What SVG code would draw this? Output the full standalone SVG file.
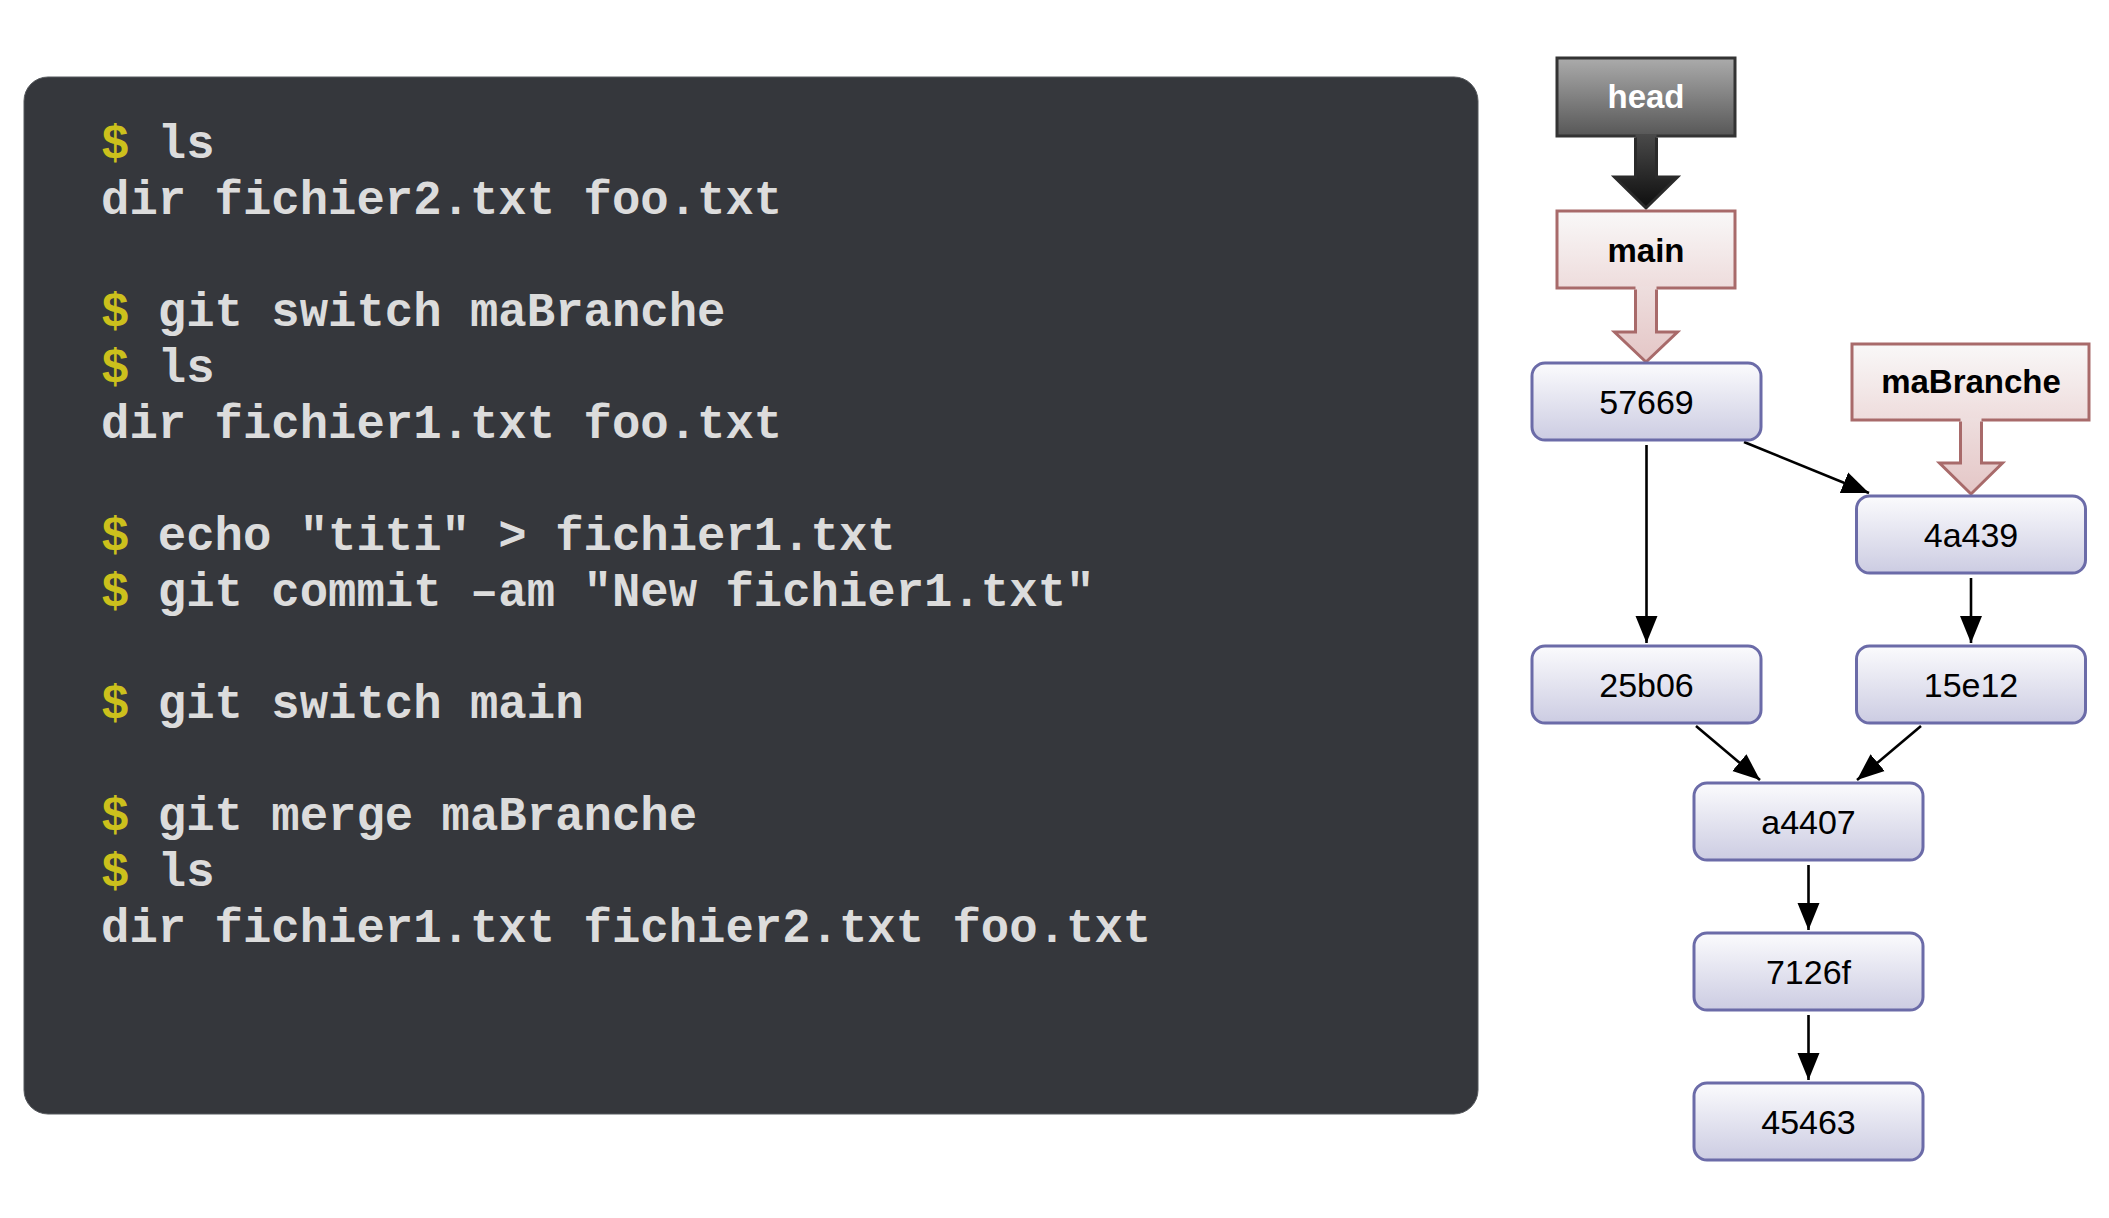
<svg xmlns="http://www.w3.org/2000/svg" width="2109" height="1218" viewBox="0 0 2109 1218">
<defs>
<linearGradient id="gNode" x1="0" y1="0" x2="0" y2="1"><stop offset="0" stop-color="#fbfbfd"/><stop offset="1" stop-color="#cccce2"/></linearGradient>
<linearGradient id="gBr" x1="0" y1="0" x2="0" y2="1"><stop offset="0" stop-color="#f9f8f8"/><stop offset="1" stop-color="#eedcdc"/></linearGradient>
<linearGradient id="gBrA" x1="0" y1="0" x2="0" y2="1"><stop offset="0" stop-color="#eedede"/><stop offset="1" stop-color="#e4c6c6"/></linearGradient>
<linearGradient id="gHead" x1="0" y1="0" x2="0" y2="1"><stop offset="0" stop-color="#ababab"/><stop offset="1" stop-color="#575757"/></linearGradient>
<linearGradient id="gHeadA" x1="0" y1="0" x2="0" y2="1"><stop offset="0" stop-color="#4a4a4a"/><stop offset="1" stop-color="#0e0e0e"/></linearGradient>
<marker id="arr" markerUnits="userSpaceOnUse" markerWidth="28" markerHeight="24" viewBox="0 0 28 24" refX="27" refY="12" orient="auto"><path d="M0,1 L27,12 L0,23 z" fill="#000"/></marker>
</defs>
<style>
.code{font-family:"Liberation Mono","Courier New",monospace;font-weight:bold;font-size:47.3px;fill:#dcdcdc}
.d{fill:#ccc01c}
.node rect{fill:url(#gNode);stroke:#6b6ba8;stroke-width:3}
.node text{font-family:"Liberation Sans",Arial,sans-serif;font-size:34px;fill:#000;text-anchor:middle}
.br rect{fill:url(#gBr);stroke:#a86a6a;stroke-width:3}
.br .af{fill:url(#gBrA)}
.br .as{fill:none;stroke:#a86a6a;stroke-width:3;stroke-linejoin:miter}
.br text{font-family:"Liberation Sans",Arial,sans-serif;font-weight:bold;font-size:33px;fill:#000;text-anchor:middle}
#head rect{fill:url(#gHead);stroke:#333;stroke-width:3}
#head .af{fill:url(#gHeadA)}
#head .as{fill:none;stroke:#2a2a2a;stroke-width:3}
#head text{fill:#fff}
.edges line{stroke:#000;stroke-width:2.6;marker-end:url(#arr)}
</style>
<rect x="24" y="77" width="1454" height="1037" rx="24" fill="#35373c" stroke="#55585c" stroke-width="1"/>
<g id="terminal" class="code">
<text x="101" y="158"><tspan class="d">$</tspan> ls</text>
<text x="101" y="214">dir fichier2.txt foo.txt</text>
<text x="101" y="326"><tspan class="d">$</tspan> git switch maBranche</text>
<text x="101" y="382"><tspan class="d">$</tspan> ls</text>
<text x="101" y="438">dir fichier1.txt foo.txt</text>
<text x="101" y="550"><tspan class="d">$</tspan> echo "titi" &gt; fichier1.txt</text>
<text x="101" y="606"><tspan class="d">$</tspan> git commit –am "New fichier1.txt"</text>
<text x="101" y="718"><tspan class="d">$</tspan> git switch main</text>
<text x="101" y="830"><tspan class="d">$</tspan> git merge maBranche</text>
<text x="101" y="886"><tspan class="d">$</tspan> ls</text>
<text x="101" y="942">dir fichier1.txt fichier2.txt foo.txt</text>
</g>
<g id="head" class="br">
<rect x="1557" y="58" width="178" height="78"/>
<path class="af" d="M1635.5,134 L1635.5,177 L1614.5,177 L1646,208 L1677.5,177 L1656.5,177 L1656.5,134 Z"/>
<path class="as" d="M1635.5,137.5 L1635.5,177 L1614.5,177 L1646,208 L1677.5,177 L1656.5,177 L1656.5,137.5"/>
<text x="1646" y="108">head</text>
</g>
<g id="main" class="br">
<rect x="1557" y="211" width="178" height="77"/>
<path class="af" d="M1635.5,286 L1635.5,332 L1614.5,332 L1646,362 L1677.5,332 L1656.5,332 L1656.5,286 Z"/>
<path class="as" d="M1635.5,289.5 L1635.5,332 L1614.5,332 L1646,362 L1677.5,332 L1656.5,332 L1656.5,289.5"/>
<text x="1646" y="262">main</text>
</g>
<g id="maBranche" class="br">
<rect x="1852" y="344" width="237" height="76"/>
<path class="af" d="M1960.5,418 L1960.5,463 L1939.5,463 L1971,494 L2002.5,463 L1981.5,463 L1981.5,418 Z"/>
<path class="as" d="M1960.5,421.5 L1960.5,463 L1939.5,463 L1971,494 L2002.5,463 L1981.5,463 L1981.5,421.5"/>
<text x="1971" y="393">maBranche</text>
</g>
<g class="edges" id="connectors">
<line x1="1646.5" y1="445" x2="1646.5" y2="643"/>
<line x1="1744" y1="442" x2="1869" y2="493"/>
<line x1="1971" y1="578" x2="1971" y2="643"/>
<line x1="1696" y1="726" x2="1760" y2="780"/>
<line x1="1921" y1="726" x2="1857" y2="780"/>
<line x1="1808.5" y1="865" x2="1808.5" y2="930"/>
<line x1="1808.5" y1="1015" x2="1808.5" y2="1080"/>
</g>
<g id="n57669" class="node"><rect x="1532" y="363" width="229" height="77" rx="13"/><text x="1646.5" y="414">57669</text></g>
<g id="n4a439" class="node"><rect x="1856.5" y="496" width="229" height="77" rx="13"/><text x="1971" y="547">4a439</text></g>
<g id="n25b06" class="node"><rect x="1532" y="646" width="229" height="77" rx="13"/><text x="1646.5" y="697">25b06</text></g>
<g id="n15e12" class="node"><rect x="1856.5" y="646" width="229" height="77" rx="13"/><text x="1971" y="697">15e12</text></g>
<g id="na4407" class="node"><rect x="1694" y="783" width="229" height="77" rx="13"/><text x="1808.5" y="834">a4407</text></g>
<g id="n7126f" class="node"><rect x="1694" y="933" width="229" height="77" rx="13"/><text x="1808.5" y="984">7126f</text></g>
<g id="n45463" class="node"><rect x="1694" y="1083" width="229" height="77" rx="13"/><text x="1808.5" y="1134">45463</text></g>
</svg>
